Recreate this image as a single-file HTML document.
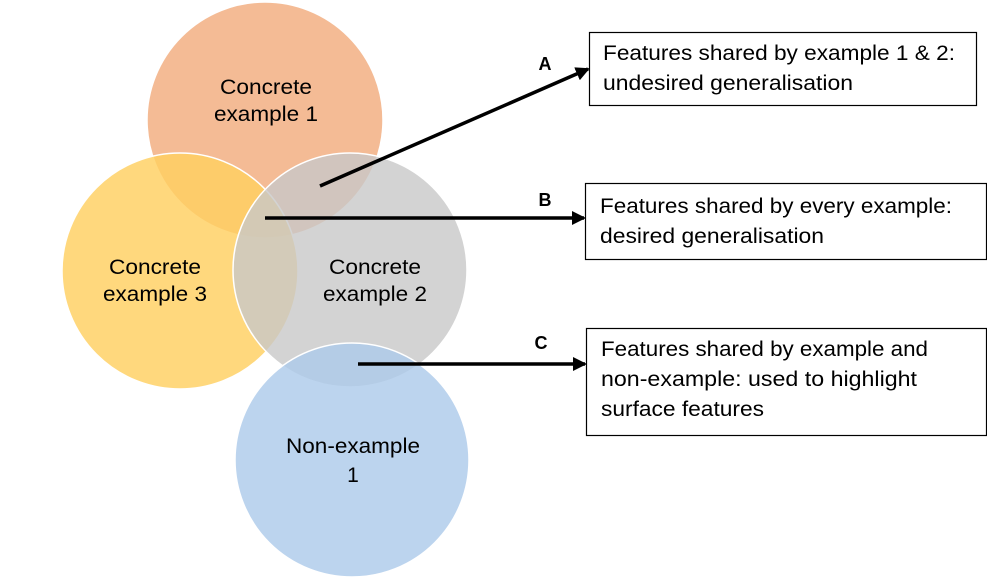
<!DOCTYPE html>
<html><head><meta charset="utf-8"><style>
html,body{margin:0;padding:0;background:#fff;}
svg{display:block;}
text{font-family:"Liberation Sans",sans-serif;fill:#000;}
</style></head><body>
<svg width="987" height="579" viewBox="0 0 987 579" xmlns="http://www.w3.org/2000/svg">
<defs>
<marker id="ah" markerWidth="14" markerHeight="14" refX="12" refY="7" orient="auto" markerUnits="userSpaceOnUse">
<path d="M0,0 L14,7 L0,14 z" fill="#000"/>
</marker>
</defs>
<g stroke="#fff" stroke-width="1.5">
<circle cx="265" cy="120" r="118" fill="#F2AC7E" fill-opacity="0.82"/>
<circle cx="180" cy="271" r="118" fill="#FFD060" fill-opacity="0.82"/>
<circle cx="350" cy="270" r="117" fill="#C8C8C8" fill-opacity="0.8"/>
<circle cx="352" cy="460" r="117" fill="#ADCBEA" fill-opacity="0.82"/>
</g>
<g font-size="21" text-anchor="middle">
<text x="266" y="94" textLength="92" lengthAdjust="spacingAndGlyphs">Concrete</text><text x="266" y="121" textLength="104" lengthAdjust="spacingAndGlyphs">example 1</text>
<text x="155" y="274" textLength="92" lengthAdjust="spacingAndGlyphs">Concrete</text><text x="155" y="301" textLength="104" lengthAdjust="spacingAndGlyphs">example 3</text>
<text x="375" y="274" textLength="92" lengthAdjust="spacingAndGlyphs">Concrete</text><text x="375" y="301" textLength="104" lengthAdjust="spacingAndGlyphs">example 2</text>
<text x="353" y="453" textLength="134" lengthAdjust="spacingAndGlyphs">Non-example</text><text x="353" y="482">1</text>
</g>
<g stroke="#000" stroke-width="3.5" fill="none">
<line x1="320" y1="186" x2="588" y2="69" marker-end="url(#ah)"/>
<line x1="265" y1="218" x2="584" y2="218" marker-end="url(#ah)"/>
<line x1="358" y1="364" x2="585" y2="364" marker-end="url(#ah)"/>
</g>
<g font-size="18" font-weight="bold" text-anchor="middle">
<text x="545" y="70">A</text><text x="545" y="206">B</text><text x="541" y="349">C</text>
</g>
<g fill="#fff" stroke="#000" stroke-width="1.2">
<rect x="589.5" y="32.5" width="387" height="73"/>
<rect x="585.5" y="183.5" width="401" height="76"/>
<rect x="586.5" y="328.5" width="400" height="107"/>
</g>
<g font-size="21" lengthAdjust="spacingAndGlyphs">
<text x="603" y="60" textLength="352" lengthAdjust="spacingAndGlyphs">Features shared by example 1 &amp; 2:</text>
<text x="603" y="90" textLength="250" lengthAdjust="spacingAndGlyphs">undesired generalisation</text>
<text x="600" y="213" textLength="352" lengthAdjust="spacingAndGlyphs">Features shared by every example:</text>
<text x="600" y="243" textLength="224" lengthAdjust="spacingAndGlyphs">desired generalisation</text>
<text x="601" y="356" textLength="327" lengthAdjust="spacingAndGlyphs">Features shared by example and</text>
<text x="601" y="386" textLength="316" lengthAdjust="spacingAndGlyphs">non-example: used to highlight</text>
<text x="601" y="416" textLength="163" lengthAdjust="spacingAndGlyphs">surface features</text>
</g>
</svg>
</body></html>
